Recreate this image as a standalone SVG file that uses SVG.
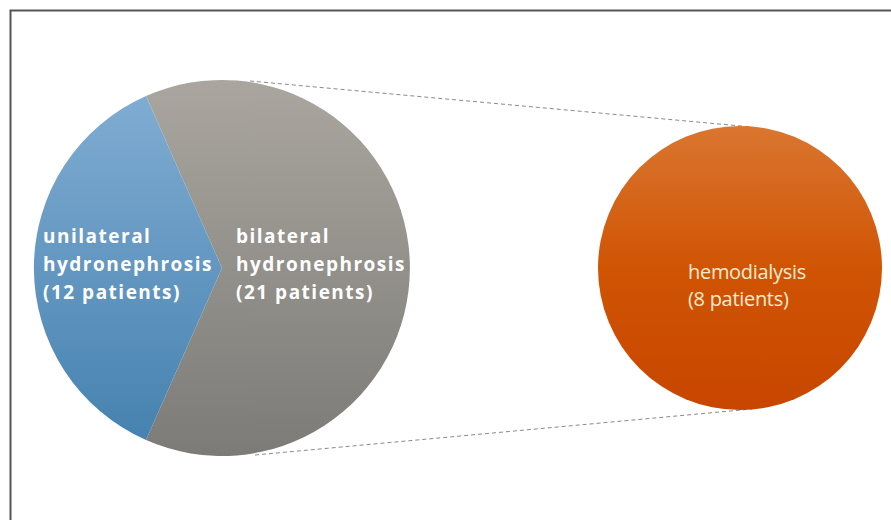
<svg xmlns="http://www.w3.org/2000/svg" width="891" height="520" viewBox="0 0 891 520">
<defs>
<linearGradient id="gBlue" x1="0" y1="0" x2="0" y2="1"><stop offset="0" stop-color="#80acd2"/><stop offset="1" stop-color="#4682b0"/></linearGradient>
<linearGradient id="gGray" x1="0" y1="0" x2="0" y2="1"><stop offset="0" stop-color="#aaa69f"/><stop offset="1" stop-color="#7c7b77"/></linearGradient>
<linearGradient id="gOrange" x1="0" y1="0" x2="0" y2="1"><stop offset="0" stop-color="#da7630"/><stop offset="0.5" stop-color="#d05404"/><stop offset="1" stop-color="#c84600"/></linearGradient>
</defs>
<style>
.lbl{font-family:"Open Sans","Noto Sans",sans-serif;font-weight:bold;font-size:19px;fill:#ffffff;letter-spacing:1.5px}
.lbl2{font-family:"Open Sans","Noto Sans",sans-serif;font-size:20px;fill:#f8ecd0;letter-spacing:-0.3px}
.dash{stroke:#8a8a8a;stroke-width:1;stroke-dasharray:4 3;fill:none}
</style>
<rect x="0" y="0" width="891" height="520" fill="#ffffff"/>
<path d="M10.5 520 V10.5 H891" fill="none" stroke="#555" stroke-width="2"/>
<g id="connectors">
<line class="dash" x1="250" y1="81" x2="752" y2="127"/>
<line class="dash" x1="255" y1="455" x2="752" y2="409"/>
</g>
<g id="bilateral">
<path d="M222 268 L146 96 A188 188 0 1 1 146 440 Z" fill="url(#gGray)"/>
<text class="lbl" x="236" y="243">bilateral</text>
<text class="lbl" x="236" y="271">hydronephrosis</text>
<text class="lbl" x="236" y="299">(21 patients)</text>
</g>
<g id="unilateral">
<path d="M222 268 L146 96 A188 188 0 0 0 146 440 Z" fill="url(#gBlue)"/>
<text class="lbl" x="43" y="243">unilateral</text>
<text class="lbl" x="43" y="271">hydronephrosis</text>
<text class="lbl" x="43" y="299">(12 patients)</text>
</g>
<g id="hemodialysis">
<ellipse cx="740" cy="268" rx="142" ry="142" fill="url(#gOrange)"/>
<text class="lbl2" x="688" y="279">hemodialysis</text>
<text class="lbl2" x="688" y="306">(8 patients)</text>
</g>
</svg>
